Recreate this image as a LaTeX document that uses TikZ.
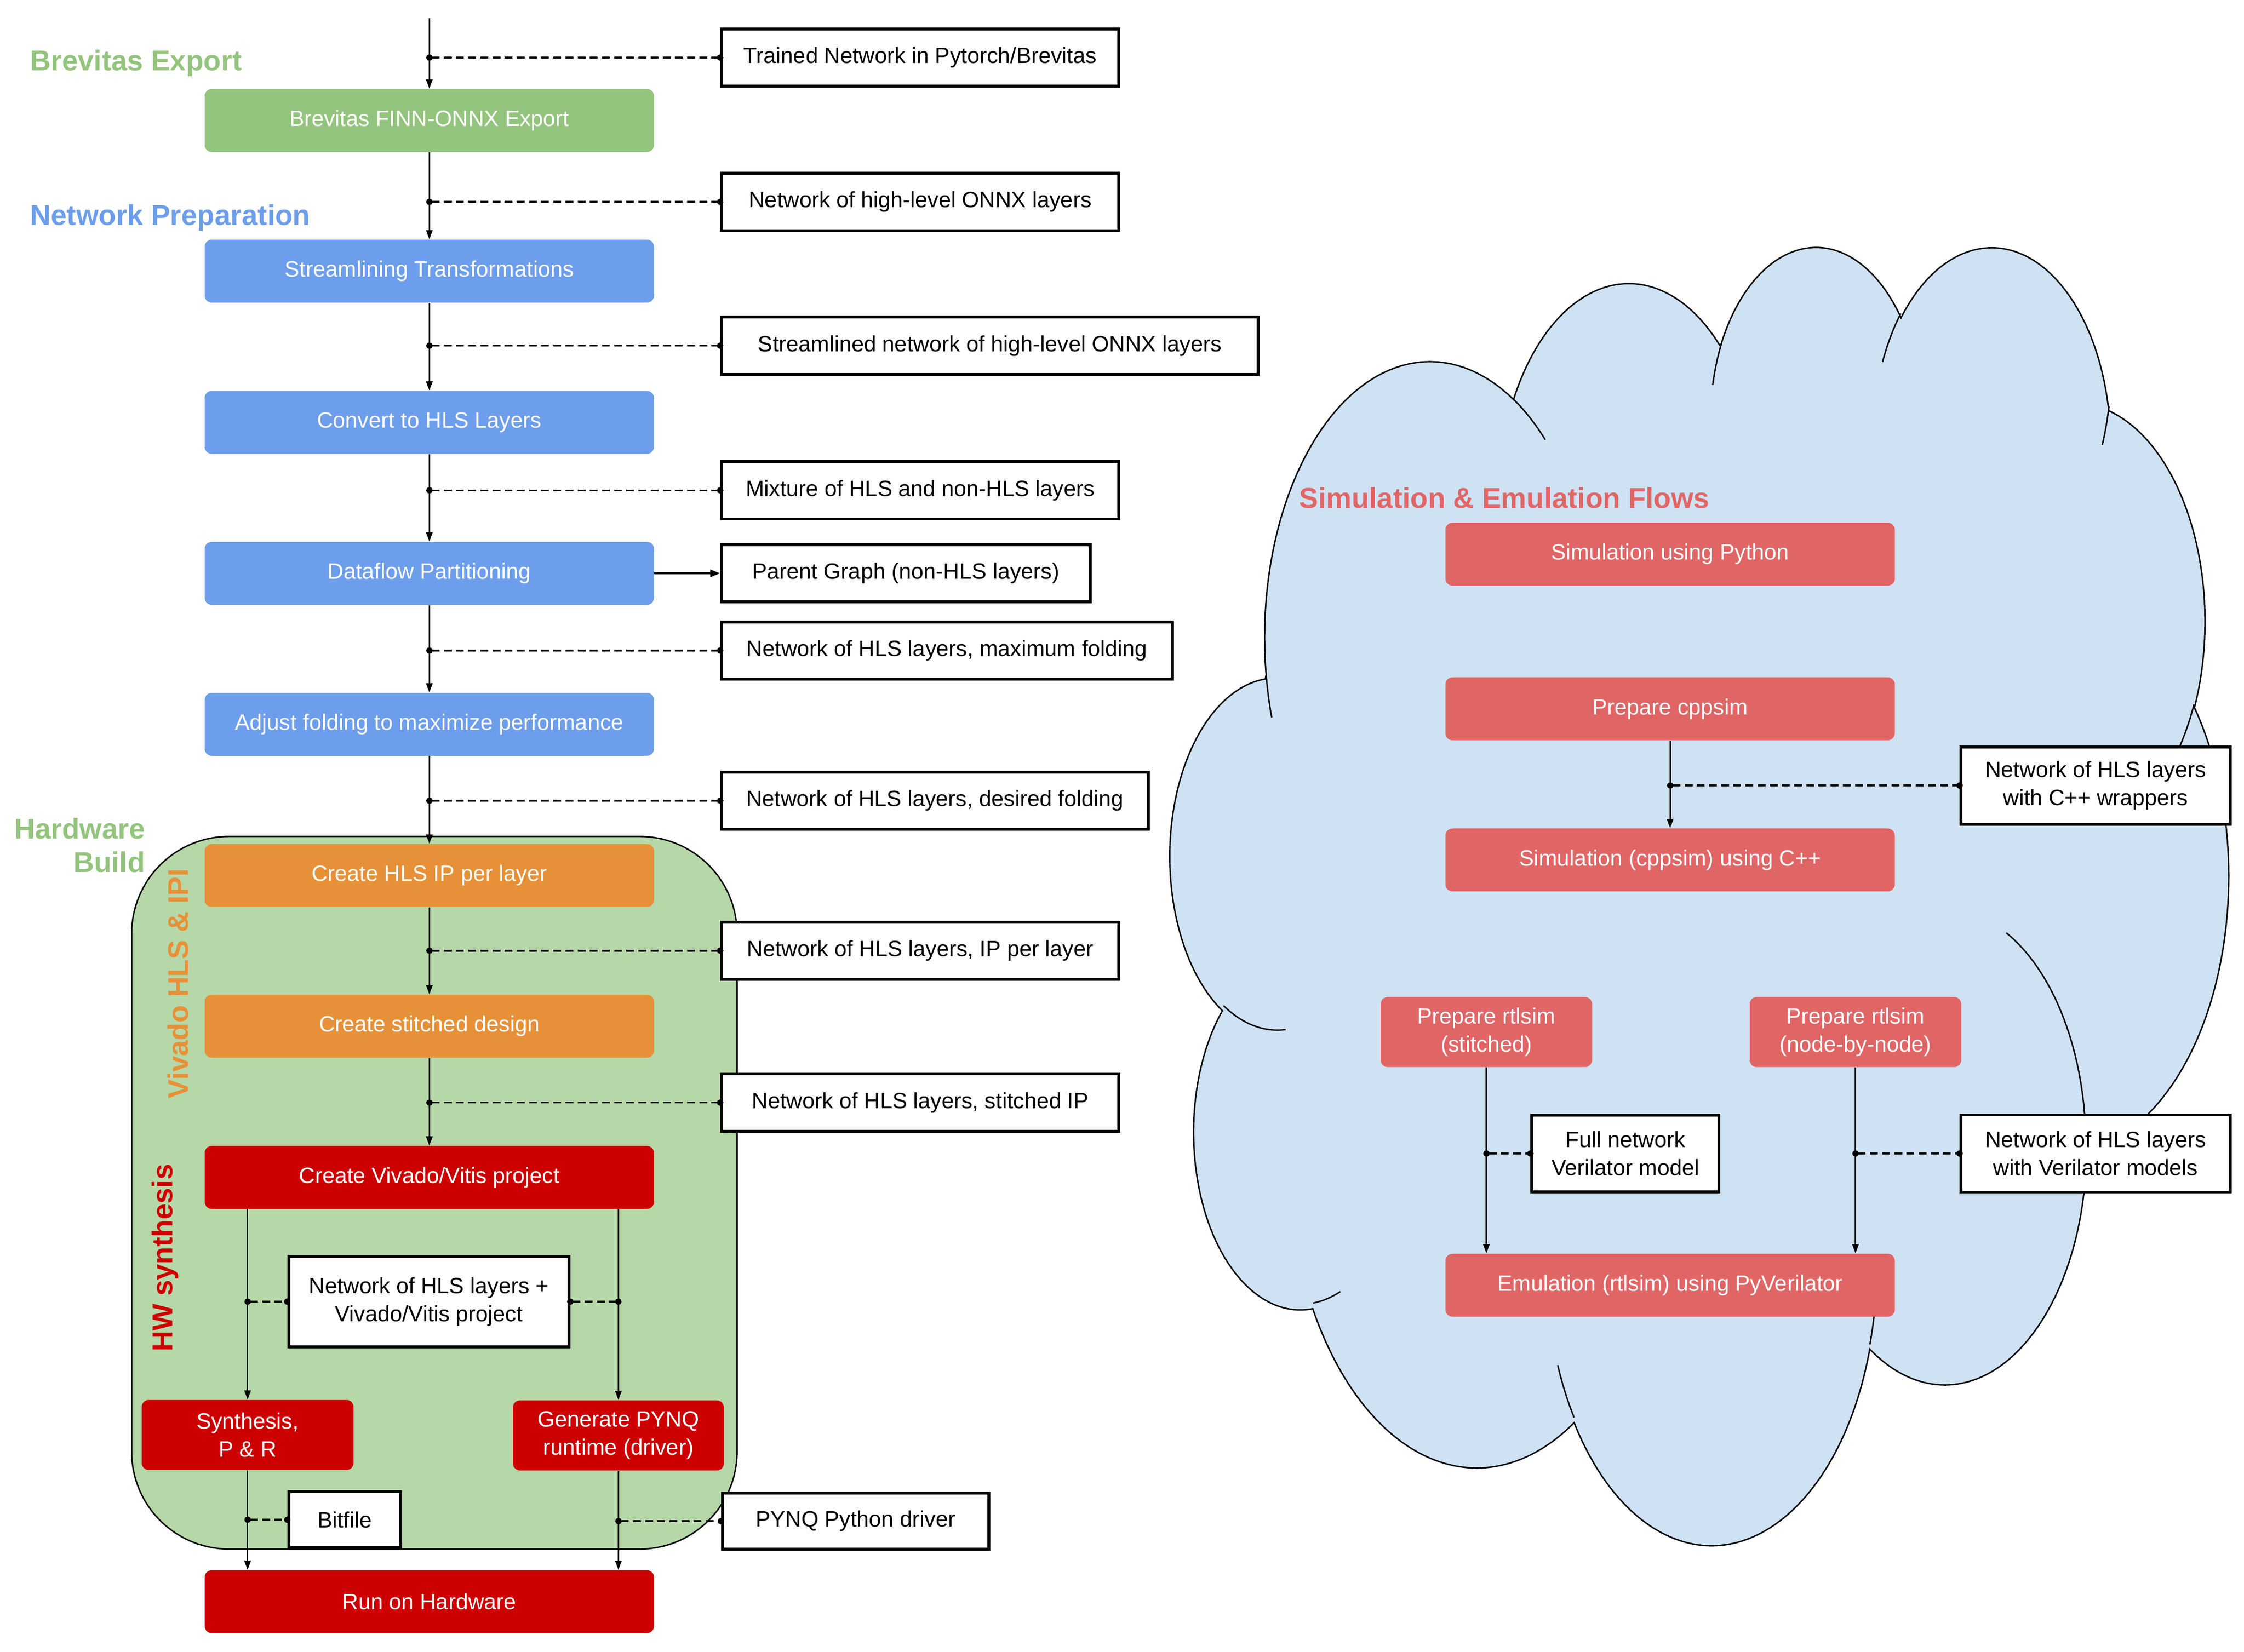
\documentclass[tikz,border=0pt]{standalone}
\usepackage{fontspec}
\setmainfont{Liberation Sans}
\usetikzlibrary{arrows.meta}
\definecolor{cGreen}{HTML}{93C47D}
\definecolor{cBlue}{HTML}{6D9EEB}
\definecolor{cOrange}{HTML}{E69138}
\definecolor{cRed}{HTML}{CC0000}
\definecolor{cSim}{HTML}{E06666}
\definecolor{cCloud}{HTML}{CFE2F3}
\definecolor{cCont}{HTML}{B6D7A8}
\newcommand\boxfont{\fontsize{15.5}{19.5}\selectfont}
\newcommand\lblfont{\fontsize{20}{23.5}\selectfont\bfseries}
% compute parametric start/end angles of an OOXML-style arc (visual angles)
\newcommand\cldset[5]{%
  \pgfmathsetmacro\cldA{#4}%
  \pgfmathsetmacro\cldB{#4+#5}%
  \pgfmathsetmacro\cldS{\cldA+mod(atan2(#2*sin(\cldA),#3*cos(\cldA))-\cldA+900,360)-180}%
  \pgfmathsetmacro\cldE{\cldB+mod(atan2(#2*sin(\cldB),#3*cos(\cldB))-\cldB+900,360)-180}%
  \expandafter\global\expandafter\let\csname cldS#1\endcsname\cldS
  \expandafter\global\expandafter\let\csname cldE#1\endcsname\cldE
}
\begin{document}
\begin{tikzpicture}[x=1pt,y=-1pt,
  proc/.style={rectangle, rounded corners=5pt, minimum width=314pt, minimum height=44pt,
    inner sep=0pt, text=white, font=\boxfont, align=center},
  databox/.style={rectangle, draw=black, line width=2pt, fill=white, inner sep=0pt,
    minimum height=40pt, text=black, font=\boxfont, align=center},
  flow/.style={-{Triangle[length=6.5pt,width=4.5pt]}, line width=1pt},
  dashcon/.style={{Circle[length=4.5pt]}-{Circle[length=4.5pt]}, line width=1.3pt,
    dash pattern=on 5.5pt off 3pt, shorten <=-2.2pt, shorten >=-2.2pt},
  lbl/.style={inner sep=0pt, font=\lblfont}
]
\useasboundingbox (0,0) rectangle (1568,1154.25);

% ---------------- cloud ----------------
\cldset{a}{675.3}{919.0}{-190.487483}{123.780533}
\cldset{b}{533.3}{726.7}{-144.102383}{89.945233}
\cldset{c}{436.5}{594.5}{-145.807917}{99.723017}
\cldset{d}{485.7}{659.5}{-130.986067}{117.241733}
\cldset{e}{533.3}{727.3}{-78.708883}{109.026917}
\cldset{f}{677.5}{922.0}{-46.26725}{130.269}
\cldset{g}{578.5}{786.7}{0.625017}{114.033333}
\cldset{h}{675.2}{921.5}{22.4516}{115.17255}
\cldset{i}{772.0}{1054.3}{66.242633}{75.711017}
\cldset{j}{436.0}{591.8}{-274.942083}{146.735567}
\cldset{k}{434.5}{594.5}{-246.8285}{152.51885}
\cldset{A}{434.5}{594.5}{86.742}{26.4295}
\cldset{B}{436.0}{591.8}{73.610467}{11.447467}
\cldset{C}{675.2}{921.5}{137.62415}{14.0811}
\cldset{D}{675.2}{921.5}{6.453267}{15.99835}
\cldset{E}{578.5}{786.7}{-70.29235}{70.917367}
\cldset{F}{533.3}{727.3}{30.318033}{27.7515}
\cldset{G}{485.7}{659.5}{13.744333}{14.8589}
\cldset{H}{485.7}{659.5}{-149.18145}{18.195367}
\cldset{I}{436.5}{594.5}{-163.494267}{17.68635}
\cldset{J}{675.3}{919.0}{-66.70695}{12.31935}
\cldset{K}{675.3}{919.0}{157.65435}{11.858167}
\begin{scope}[shift={(818pt,-170pt)}, x=0.17106pt, y=-0.20995pt]
\draw[fill=cCloud, line width=1pt] (390,1437)
  arc[x radius=675.3, y radius=919.0, start angle=\cldSa, end angle=\cldEa]
  arc[x radius=533.3, y radius=726.7, start angle=\cldSb, end angle=\cldEb]
  arc[x radius=436.5, y radius=594.5, start angle=\cldSc, end angle=\cldEc]
  arc[x radius=485.7, y radius=659.5, start angle=\cldSd, end angle=\cldEd]
  arc[x radius=533.3, y radius=727.3, start angle=\cldSe, end angle=\cldEe]
  arc[x radius=677.5, y radius=922.0, start angle=\cldSf, end angle=\cldEf]
  arc[x radius=578.5, y radius=786.7, start angle=\cldSg, end angle=\cldEg]
  arc[x radius=675.2, y radius=921.5, start angle=\cldSh, end angle=\cldEh]
  arc[x radius=772.0, y radius=1054.3, start angle=\cldSi, end angle=\cldEi]
  arc[x radius=436.0, y radius=591.8, start angle=\cldSj, end angle=\cldEj]
  arc[x radius=434.5, y radius=594.5, start angle=\cldSk, end angle=\cldEk]
  -- cycle;
\draw[line width=1pt]
  (469.3,2617.7) arc[x radius=434.5, y radius=594.5, start angle=\cldSA, end angle=\cldEA]
  (692.8,3489.9) arc[x radius=436.0, y radius=591.8, start angle=\cldSB, end angle=\cldEB]
  (1647.8,3909.0) arc[x radius=675.2, y radius=921.5, start angle=\cldSC, end angle=\cldEC]
  (2882.7,3475.1) arc[x radius=675.2, y radius=921.5, start angle=\cldSD, end angle=\cldED]
  (3412.9,2295.4) arc[x radius=578.5, y radius=786.7, start angle=\cldSE, end angle=\cldEE]
  (4179.8,1535.4) arc[x radius=533.3, y radius=727.3, start angle=\cldSF, end angle=\cldEF]
  (3832.4,542.6) arc[x radius=485.7, y radius=659.5, start angle=\cldSG, end angle=\cldEG]
  (2907.8,395.2) arc[x radius=485.7, y radius=659.5, start angle=\cldSH, end angle=\cldEH]
  (2214.1,472.0) arc[x radius=436.5, y radius=594.5, start angle=\cldSI, end angle=\cldEI]
  (1400.0,519.2) arc[x radius=675.3, y radius=919.0, start angle=\cldSJ, end angle=\cldEJ]
  (412.7,1578.9) arc[x radius=675.3, y radius=919.0, start angle=\cldSK, end angle=\cldEK];
\end{scope}

% ---------------- hardware build container ----------------
\node[draw=black, line width=1pt, fill=cCont, rounded corners=68pt, inner sep=0pt,
  minimum width=423pt, minimum height=498pt] (hwbox) at (303.5,833.6) {};

% ---------------- section labels ----------------
\node[lbl, text=cGreen, anchor=base west] (lbrev) at (21,49.4) {Brevitas Export};
\node[lbl, text=cBlue, anchor=base west] (lprep) at (21,157.3) {Network Preparation};
\node[lbl, text=cGreen, anchor=base east, align=right] (lhw) at (101.5,609.6) {Hardware\\Build};
\node[lbl, text=cOrange, anchor=base west, rotate=90] (lviv) at (131.6,768.1) {Vivado HLS \& IPI};
\node[lbl, text=cRed, anchor=base west, rotate=90] (lsyn) at (120.6,944.9) {HW synthesis};
\node[lbl, text=cSim, anchor=base west] (lsim) at (907.6,355) {Simulation \& Emulation Flows};

% ---------------- process steps ----------------
\node[proc, fill=cGreen] (brev) at (300,84.2) {Brevitas FINN-ONNX Export};
\node[proc, fill=cBlue] (stream) at (300,189.5) {Streamlining Transformations};
\node[proc, fill=cBlue] (conv) at (300,295.2) {Convert to HLS Layers};
\node[proc, fill=cBlue] (dfp) at (300,400.7) {Dataflow Partitioning};
\node[proc, fill=cBlue] (adj) at (300,506.2) {Adjust folding to maximize performance};
\node[proc, fill=cOrange] (hlsip) at (300,611.9) {Create HLS IP per layer};
\node[proc, fill=cOrange] (stitch) at (300,717.2) {Create stitched design};
\node[proc, fill=cRed] (vivp) at (300,822.9) {Create Vivado/Vitis project};
\node[proc, fill=cRed, minimum width=148pt, minimum height=49pt] (synth) at (173,1002.9) {Synthesis,\\P \& R};
\node[proc, fill=cRed, minimum width=147.4pt, minimum height=49pt] (pynq) at (432.1,1003.2) {Generate PYNQ\\runtime (driver)};
\node[proc, fill=cRed] (run) at (300,1119.4) {Run on Hardware};

\node[proc, fill=cSim] (simpy) at (1167,387.3) {Simulation using Python};
\node[proc, fill=cSim] (prepcpp) at (1167,495.4) {Prepare cppsim};
\node[proc, fill=cSim] (simcpp) at (1167,601) {Simulation (cppsim) using C++};
\node[proc, fill=cSim, minimum width=147.7pt, minimum height=49pt] (prepst) at (1038.6,721.3) {Prepare rtlsim\\(stitched)};
\node[proc, fill=cSim, minimum width=147.8pt, minimum height=49pt] (prepnn) at (1296.5,721.3) {Prepare rtlsim\\(node-by-node)};
\node[proc, fill=cSim] (emu) at (1167,898.2) {Emulation (rtlsim) using PyVerilator};

% ---------------- data boxes ----------------
\node[databox, minimum width=277.5pt] (d1) at (643,40.25) {Trained Network in Pytorch/Brevitas};
\node[databox, minimum width=277.5pt] (d2) at (643,141.1) {Network of high-level ONNX layers};
\node[databox, minimum width=374.7pt] (d3) at (691.6,241.6) {Streamlined network of high-level ONNX layers};
\node[databox, minimum width=277.5pt] (d4) at (643,342.7) {Mixture of HLS and non-HLS layers};
\node[databox, minimum width=257.5pt] (d5) at (633,400.7) {Parent Graph (non-HLS layers)};
\node[databox, minimum width=314.9pt] (d6) at (661.7,454.6) {Network of HLS layers, maximum folding};
\node[databox, minimum width=298pt] (d7) at (653.3,559.6) {Network of HLS layers, desired folding};
\node[databox, minimum width=277.5pt] (d8) at (643,664.4) {Network of HLS layers, IP per layer};
\node[databox, minimum width=277.5pt] (d9) at (643,770.6) {Network of HLS layers, stitched IP};
\node[databox, minimum width=195.7pt, minimum height=63.5pt] (d10) at (299.6,909.7) {Network of HLS layers +\\Vivado/Vitis project};
\node[databox, minimum width=78.2pt, minimum height=39.2pt] (d11) at (240.9,1062.1) {Bitfile};
\node[databox, minimum width=186.2pt, minimum height=39.3pt] (d12) at (597.9,1063.1) {PYNQ Python driver};
\node[databox, minimum width=188pt, minimum height=54pt] (d13) at (1464.3,549) {Network of HLS layers\\with C++ wrappers};
\node[databox, minimum width=130.8pt, minimum height=53.6pt] (d14) at (1135.8,806.2) {Full network\\Verilator model};
\node[databox, minimum width=188pt, minimum height=54pt] (d15) at (1464.3,806.2) {Network of HLS layers\\with Verilator models};

% ---------------- flow connectors ----------------
\coordinate (start) at (300,12.8);
\draw[flow] (start) -- (brev.north);
\draw[flow] (brev) -- (stream);
\draw[flow] (stream) -- (conv);
\draw[flow] (conv) -- (dfp);
\draw[flow] (dfp) -- (adj);
\draw[flow] (adj) -- (hlsip);
\draw[flow] (hlsip) -- (stitch);
\draw[flow] (stitch) -- (vivp);
\draw[flow] (vivp.south -| synth.north) -- (synth.north);
\draw[flow] (vivp.south -| pynq.north) -- (pynq.north);
\draw[flow] (synth.south) -- (run.north -| synth.south);
\draw[flow] (pynq.south) -- (run.north -| pynq.south);
\draw[-{Triangle[length=7pt,width=5pt]}, line width=1.5pt] (dfp.east) -- (d5.west);
\draw[flow] (prepcpp) -- (simcpp);
\draw[flow] (prepst.south) -- (emu.north -| prepst.south);
\draw[flow] (prepnn.south) -- (emu.north -| prepnn.south);

% ---------------- dashed data connectors ----------------
\draw[dashcon] (d1.west -| brev.center) -- (d1.west);
\draw[dashcon] (d2.west -| brev.center) -- (d2.west);
\draw[dashcon] (d3.west -| brev.center) -- (d3.west);
\draw[dashcon] (d4.west -| brev.center) -- (d4.west);
\draw[dashcon] (d6.west -| brev.center) -- (d6.west);
\draw[dashcon] (d7.west -| brev.center) -- (d7.west);
\draw[dashcon] (d8.west -| brev.center) -- (d8.west);
\draw[dashcon] (d9.west -| brev.center) -- (d9.west);
\draw[dashcon] (d10.west -| synth.north) -- (d10.west);
\draw[dashcon] (d10.east) -- (d10.east -| pynq.north);
\draw[dashcon] (d11.west -| synth.south) -- (d11.west);
\draw[dashcon] (d12.west -| pynq.south) -- (d12.west);
\draw[dashcon] (d13.west -| prepcpp.south) -- (d13.west);
\draw[dashcon] (d14.west -| prepst.south) -- (d14.west);
\draw[dashcon] (d15.west -| prepnn.south) -- (d15.west);
\end{tikzpicture}
\end{document}
